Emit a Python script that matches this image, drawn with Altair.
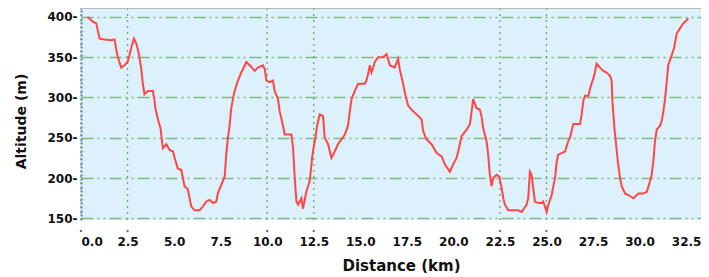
import altair as alt
import pandas as pd

dist_km = [0.35, 0.63, 0.82, 0.9, 1.0, 1.26, 1.62, 1.8, 1.89, 1.98, 2.16, 2.34, 2.5, 2.6, 2.7, 2.84, 2.97,
           3.09, 3.15, 3.24, 3.32, 3.41, 3.59, 3.86, 3.95, 3.99, 4.13, 4.27, 4.35, 4.4, 4.58, 4.76, 4.94,
           5.03, 5.2, 5.39, 5.56, 5.74, 5.83, 5.92, 6.1, 6.37, 6.55, 6.73, 6.91, 7.09, 7.27, 7.35, 7.54,
           7.72, 7.8, 7.89, 7.98, 8.07, 8.16, 8.25, 8.43, 8.61, 8.88, 9.06, 9.33, 9.5, 9.77, 9.87, 9.96,
           10.13, 10.31, 10.4, 10.58, 10.67, 10.85, 10.94, 11.3, 11.39, 11.48, 11.57, 11.66, 11.84, 11.92,
           12.0, 12.1, 12.28, 12.34, 12.41, 12.52, 12.59, 12.68, 12.82, 13.0, 13.09, 13.27, 13.45, 13.63,
           13.8, 13.99, 14.17, 14.34, 14.44, 14.53, 14.7, 14.88, 15.24, 15.33, 15.42, 15.51, 15.6, 15.69,
           15.78, 15.96, 16.22, 16.41, 16.59, 16.85, 17.03, 17.12, 17.3, 17.43, 17.57, 17.75, 18.02, 18.29,
           18.38, 18.56, 18.83, 19.1, 19.37, 19.54, 19.81, 19.99, 20.17, 20.26, 20.44, 20.71, 20.89, 20.98,
           21.06, 21.24, 21.42, 21.51, 21.6, 21.69, 21.78, 21.87, 21.96, 22.05, 22.14, 22.32, 22.45, 22.59,
           22.68, 22.77, 22.95, 23.22, 23.48, 23.67, 23.93, 24.02, 24.11, 24.2, 24.38, 24.56, 24.74, 24.83,
           25.01, 25.1, 25.28, 25.37, 25.46, 25.55, 25.63, 25.82, 26.0, 26.17, 26.26, 26.44, 26.8, 26.89,
           26.98, 27.07, 27.25, 27.33, 27.42, 27.51, 27.6, 27.69, 27.88, 28.05, 28.23, 28.41, 28.5, 28.54,
           28.65, 28.72, 28.83, 28.95, 29.04, 29.22, 29.4, 29.67, 29.94, 30.2, 30.39, 30.56, 30.65, 30.74,
           30.83, 30.92, 31.1, 31.19, 31.28, 31.37, 31.45, 31.54, 31.72, 31.86, 31.99, 32.18, 32.35, 32.62]

altitude_m = [400, 394, 392, 383, 373, 372, 371, 372, 360, 350, 337, 340, 344, 352, 362, 373, 367,
              356, 348, 335, 317, 304, 308, 308, 296, 287, 273, 262, 246, 237, 242, 235, 233,
              225, 212, 210, 190, 186, 175, 165, 160, 160, 165, 171, 173, 169, 171, 181, 192,
              202, 229, 250, 265, 287, 298, 308, 321, 331, 344, 340, 333, 337, 340, 335, 321,
              319, 321, 308, 298, 283, 265, 254, 254, 237, 200, 171, 167, 175, 162,
              171, 183, 196, 208, 225, 242, 250, 265, 279, 277, 250, 242, 225, 233,
              242, 248, 254, 265, 283, 298, 308, 317, 317, 321, 329, 340, 331, 337,
              344, 350, 350, 354, 340, 337, 348, 335, 317, 302, 290, 285, 279, 273,
              258, 248, 242, 231, 227, 217, 208, 217, 225, 233, 252, 260, 267, 283,
              298, 287, 285, 277, 262, 254, 246, 229, 204, 190, 200, 204, 202, 188,
              175, 167, 160, 160, 160, 158, 167, 175, 208, 204, 171, 169, 169, 171,
              158, 167, 179, 190, 200, 221, 229, 231, 233, 246, 250, 267, 267, 279,
              296, 302, 302, 310, 317, 323, 331, 342, 337, 333, 331, 327, 321, 296,
              262, 246, 221, 200, 190, 181, 179, 175, 181, 181, 183, 196, 204, 221,
              246, 260, 265, 271, 283, 298, 317, 340, 352, 362, 379, 386, 392, 398]

marker_km = [0, 2.5, 10.0, 12.5, 22.5, 25.0]
x_ticks = [0, 2.5, 5, 7.5, 10, 12.5, 15, 17.5, 20, 22.5, 25, 27.5, 30, 32.5]
y_ticks = [150, 200, 250, 300, 350, 400]

W, H = 620, 212
X_DOM = [0, 33.3]
Y_DOM = [148, 411]
FONT = "DejaVu Sans"

df = pd.DataFrame({"d": dist_km, "a": altitude_m})
mk = pd.DataFrame({"d": marker_km})

xs = alt.Scale(domain=X_DOM, nice=False, zero=False)
ys = alt.Scale(domain=Y_DOM, nice=False, zero=False)

x_axis = alt.Axis(values=x_ticks, format=".1f", ticks=False, domain=False, grid=False,
                  labelFont=FONT, labelFontSize=12, labelFontWeight="bold", labelColor="#111",
                  labelPadding=16, title="Distance (km)", titleFont=FONT, titleFontSize=15,
                  titleFontWeight="bold", titleColor="#111", titleX=320, titleY=45,
                  titleBaseline="middle", titleAlign="center")
y_axis = alt.Axis(values=y_ticks, format="d", ticks=False, domain=True, domainColor="#5a78b8",
                  domainWidth=2, domainDash=[2, 2], gridColor="#7fba7f", gridWidth=1.3,
                  gridDash=[12, 4, 2, 4, 2, 4], labelExpr="datum.label + '-'",
                  labelFont=FONT, labelFontSize=12, labelFontWeight="bold", labelColor="#111",
                  labelPadding=4, title="Altitude (m)", titleFont=FONT, titleFontSize=14,
                  titleFontWeight="bold", titleColor="#111", titleX=-60, titleY=113,
                  titleAngle=270, titleBaseline="middle", titleAlign="center")

line = alt.Chart(df).mark_line(color="#ff4545", strokeWidth=2, clip=True).encode(
    x=alt.X("d:Q", scale=xs, axis=x_axis),
    y=alt.Y("a:Q", scale=ys, axis=y_axis),
)

vrules = alt.Chart(mk).mark_rule(color="#6aaa6a", strokeWidth=1.3, strokeDash=[2, 4]).encode(
    x=alt.X("d:Q", scale=xs),
    y=alt.value(0), y2=alt.value(H),
)

dots = alt.Chart(mk).mark_point(filled=True, shape="circle", size=6, color="#777", opacity=1).encode(
    x=alt.X("d:Q", scale=xs),
    y=alt.value(H + 11),
)

top_border = alt.Chart(pd.DataFrame({"v": [0]})).mark_rule(color="#b8b8b8", strokeWidth=2).encode(
    x=alt.value(0), x2=alt.value(W), y=alt.value(0),
)

chart = alt.layer(vrules, line, dots, top_border).properties(
    width=W, height=H,
    autosize=alt.AutoSizeParams(type="none"),
    padding={"left": 73, "top": 0, "right": 0, "bottom": 53},
).configure_view(fill="#ddf1fc", stroke=None)

chart.save("out.html", embed_options={"renderer": "svg", "actions": False})
